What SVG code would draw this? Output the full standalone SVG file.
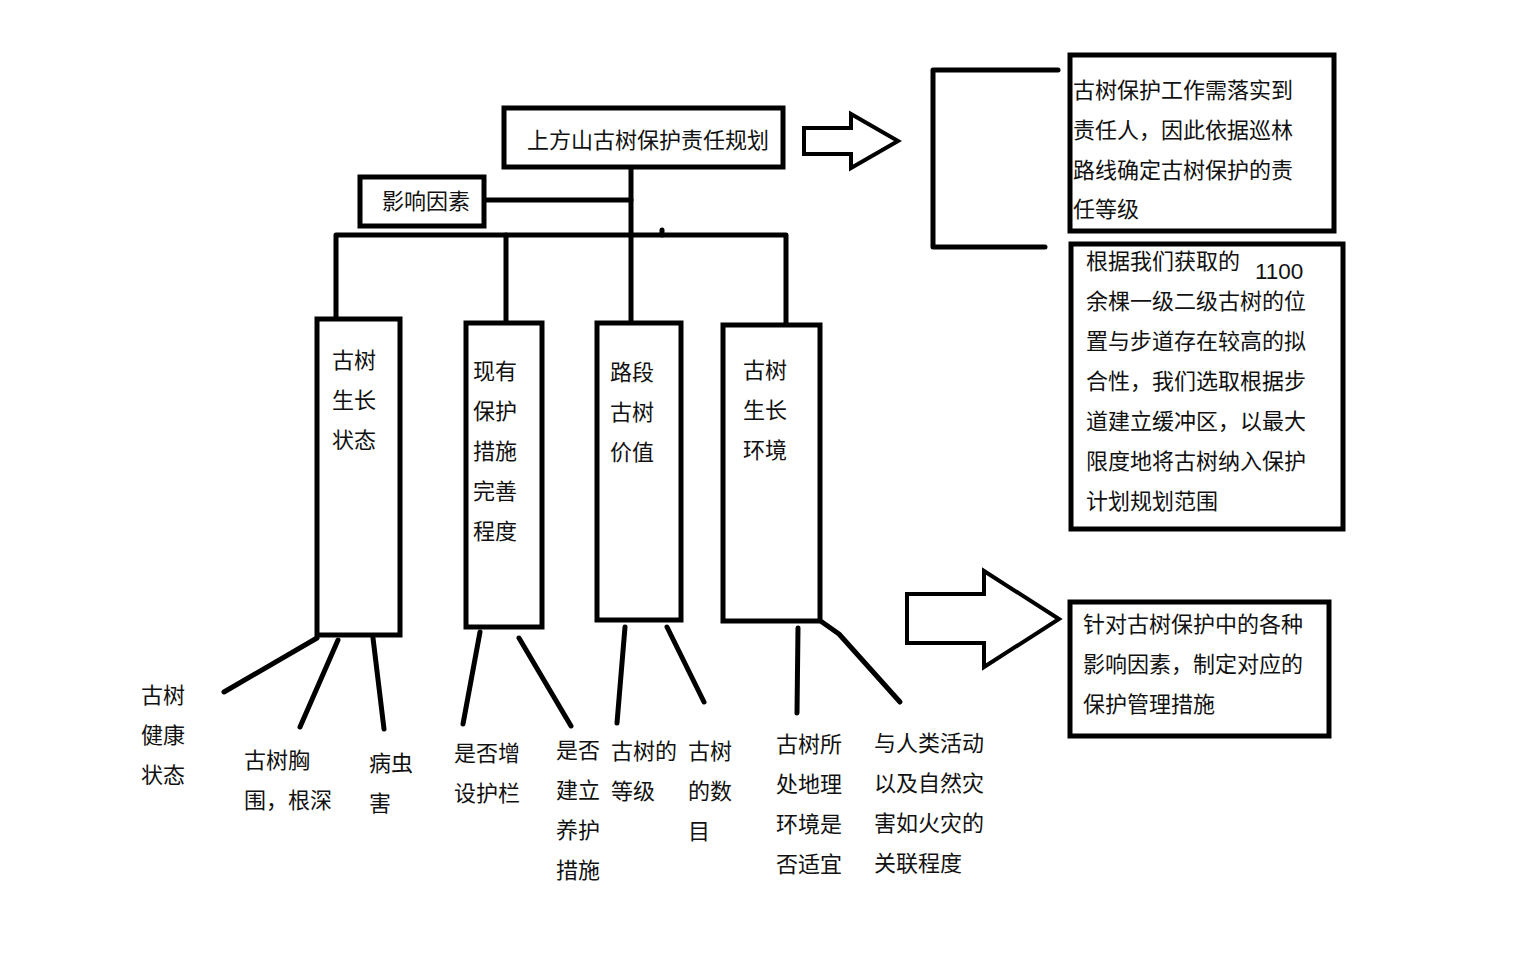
<svg xmlns="http://www.w3.org/2000/svg" width="1536" height="960" viewBox="0 0 1536 960">
<style>
.box{fill:#fff;stroke:#000;stroke-width:5}
.ln{fill:none;stroke:#000;stroke-width:5;stroke-linecap:round;stroke-linejoin:round}
.arr{fill:#fff;stroke:#000;stroke-width:4;stroke-linejoin:miter}
text{font-family:"Noto Sans CJK SC","Microsoft YaHei",sans-serif;font-size:22px;fill:#111}
.num{font-family:"Liberation Sans",Arial,sans-serif;font-size:22.5px}
</style>
<rect width="1536" height="960" fill="#fff"/>
<g id="connectors">
<path class="ln" d="M631,168 V320"/>
<path class="ln" d="M484,200 H631"/>
<path class="ln" d="M336,318 V235 H786 V324"/>
<path class="ln" d="M506,235 V322"/>
<path class="ln" d="M662,230 V235"/>
<path class="ln" d="M317,638 L224,692"/>
<path class="ln" d="M338,640 L300,727"/>
<path class="ln" d="M373,638 L384,729"/>
<path class="ln" d="M480,632 L463,724"/>
<path class="ln" d="M519,638 L571,726"/>
<path class="ln" d="M625,627 L617,723"/>
<path class="ln" d="M667,627 L704,702"/>
<path class="ln" d="M798,628 L797,713"/>
<path class="ln" d="M822,622 L839,634 L900,702"/>
<path class="ln" d="M1058,70 H933 V247 H1045"/>
</g>
<g id="arrow-top"><path class="arr" d="M804,128 H851 V114 L898,141 L851,168 V154 H804 Z"/></g>
<g id="arrow-bottom"><path class="arr" d="M907,594 H984 V571 L1059,619 L984,667 V643 H907 Z" stroke-width="5"/></g>
<g id="title"><rect class="box" x="504" y="108" width="279" height="59"/><text x="527" y="148">上方山古树保护责任规划</text></g>
<g id="factors"><rect class="box" x="360" y="177" width="124" height="49"/><text x="382" y="209">影响因素</text></g>
<g id="n1"><rect class="box" x="317" y="319" width="83" height="316"/>
<text x="332" y="368">古树</text><text x="332" y="408">生长</text><text x="332" y="448">状态</text></g>
<g id="n2"><rect class="box" x="466" y="323" width="76" height="304"/>
<text x="473" y="379">现有</text><text x="473" y="419">保护</text><text x="473" y="459">措施</text><text x="473" y="499">完善</text><text x="473" y="539">程度</text></g>
<g id="n3"><rect class="box" x="597" y="323" width="84" height="297"/>
<text x="610" y="380">路段</text><text x="610" y="420">古树</text><text x="610" y="460">价值</text></g>
<g id="n4"><rect class="box" x="723" y="325" width="97" height="296"/>
<text x="743" y="378">古树</text><text x="743" y="418">生长</text><text x="743" y="458">环境</text></g>
<g id="l1"><text x="141" y="703">古树</text><text x="141" y="743">健康</text><text x="141" y="783">状态</text></g>
<g id="l2"><text x="244" y="768">古树胸</text><text x="244" y="808">围，根深</text></g>
<g id="l3"><text x="369" y="771">病虫</text><text x="369" y="811">害</text></g>
<g id="l4"><text x="454" y="761">是否增</text><text x="454" y="801">设护栏</text></g>
<g id="l5"><text x="556" y="758">是否</text><text x="556" y="798">建立</text><text x="556" y="838">养护</text><text x="556" y="878">措施</text></g>
<g id="l6"><text x="611" y="759">古树的</text><text x="611" y="799">等级</text></g>
<g id="l7"><text x="688" y="759">古树</text><text x="688" y="799">的数</text><text x="688" y="839">目</text></g>
<g id="l8"><text x="776" y="752">古树所</text><text x="776" y="792">处地理</text><text x="776" y="832">环境是</text><text x="776" y="872">否适宜</text></g>
<g id="l9"><text x="874" y="751">与人类活动</text><text x="874" y="791">以及自然灾</text><text x="874" y="831">害如火灾的</text><text x="874" y="871">关联程度</text></g>
<g id="boxA"><rect class="box" x="1070" y="55" width="264" height="176"/>
<text x="1073" y="98">古树保护工作需落实到</text><text x="1073" y="138">责任人，因此依据巡林</text><text x="1073" y="178">路线确定古树保护的责</text><text x="1073" y="217">任等级</text></g>
<g id="boxB"><rect class="box" x="1071" y="244" width="272" height="285"/>
<text x="1086" y="269">根据我们获取的</text><text class="num" x="1255" y="279">1100</text>
<text x="1086" y="309">余棵一级二级古树的位</text><text x="1086" y="349">置与步道存在较高的拟</text><text x="1086" y="389">合性，我们选取根据步</text><text x="1086" y="429">道建立缓冲区，以最大</text><text x="1086" y="469">限度地将古树纳入保护</text><text x="1086" y="509">计划规划范围</text></g>
<g id="boxC"><rect class="box" x="1070" y="602" width="259" height="134"/>
<text x="1083" y="632">针对古树保护中的各种</text><text x="1083" y="672">影响因素，制定对应的</text><text x="1083" y="712">保护管理措施</text></g>
</svg>
